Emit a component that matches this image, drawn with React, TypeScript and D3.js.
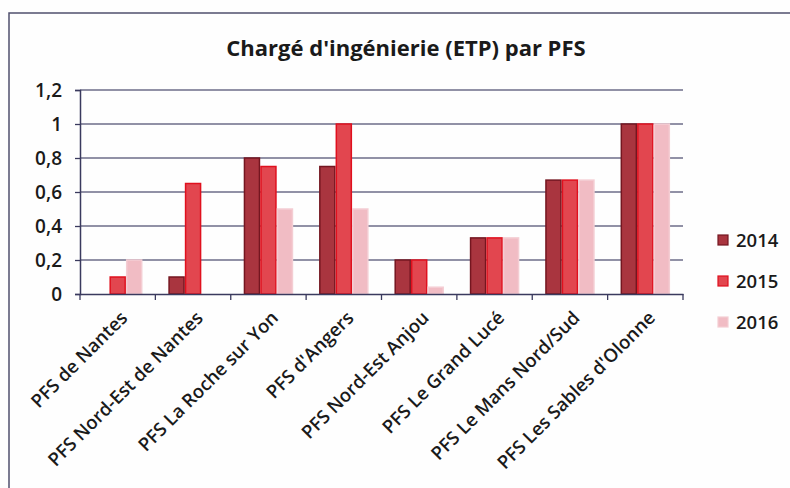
import React, { useEffect, useRef } from "react";
import * as d3 from "d3";

const categories = [
    "PFS de Nantes",
    "PFS Nord-Est de Nantes",
    "PFS La Roche sur Yon",
    "PFS d'Angers",
    "PFS Nord-Est Anjou",
    "PFS Le Grand Lucé",
    "PFS Le Mans Nord/Sud",
    "PFS Les Sables d'Olonne",
];
const years = ["2014", "2015", "2016"];
const values2014 = [0, 0.1, 0.8, 0.75, 0.2, 0.33, 0.67, 1];
const values2015 = [0.1, 0.65, 0.75, 1, 0.2, 0.33, 0.67, 1];
const values2016 = [0.2, 0, 0.5, 0.5, 0.04, 0.33, 0.67, 1];
const yTicks = [0, 0.2, 0.4, 0.6, 0.8, 1, 1.2];
const title = "Chargé d'ingénierie (ETP) par PFS";

const fills = ["#a9353f", "#e2464f", "#f1bcc4"];
const strokes = ["#741620", "#e0101e", "#f4cdd3"];

const App: React.FC = () => {
    const ref = useRef<SVGSVGElement>(null);

    useEffect(() => {
        if (!ref.current) return;
        const svg = d3.select(ref.current);
        svg.selectAll("*").remove();

        const font = "'Open Sans', Lato, sans-serif";
        const series = [values2014, values2015, values2016];

        // frame
        svg.append("rect").attr("width", 790).attr("height", 488).attr("fill", "#fefefe");
        svg.append("path")
            .attr("d", "M9,488 V13 H790")
            .attr("fill", "none")
            .attr("stroke", "#50506e")
            .attr("stroke-width", 1.5);

        svg.append("text")
            .attr("x", 406)
            .attr("y", 56)
            .attr("text-anchor", "middle")
            .attr("font-family", font)
            .attr("font-weight", 700)
            .attr("font-size", 22)
            .attr("fill", "#1a1a1a")
            .text(title);

        const x0 = d3.scaleBand<string>().domain(categories).range([80, 683]);
        const x1 = d3
            .scaleBand<string>()
            .domain(years)
            .range([13.7, 13.7 + 48])
            .paddingInner(0.09);
        const y = d3.scaleLinear().domain([0, 1.2]).range([294, 90]);

        // grid
        svg.append("g")
            .selectAll("line")
            .data(yTicks.filter((t) => t > 0))
            .join("line")
            .attr("x1", 80)
            .attr("x2", 683)
            .attr("y1", (d) => y(d))
            .attr("y2", (d) => y(d))
            .attr("stroke", "#6c6c88")
            .attr("stroke-width", 1.3);

        // bars
        const groups = svg
            .append("g")
            .selectAll("g")
            .data(categories)
            .join("g")
            .attr("transform", (d) => `translate(${x0(d)},0)`);

        groups
            .selectAll("rect")
            .data((_, i) => series.map((s, k) => ({ k, v: s[i] })))
            .join("rect")
            .filter((d) => d.v > 0)
            .attr("x", (d) => x1(years[d.k])!)
            .attr("width", x1.bandwidth())
            .attr("y", (d) => y(d.v))
            .attr("height", (d) => y(0) - y(d.v))
            .attr("fill", (d) => fills[d.k])
            .attr("stroke", (d) => strokes[d.k])
            .attr("stroke-width", 1.5);

        // y axis
        const yAxis = svg
            .append("g")
            .attr("transform", "translate(80,0)")
            .call(
                d3
                    .axisLeft(y)
                    .tickValues(yTicks)
                    .tickSize(5)
                    .tickPadding(13)
                    .tickFormat((d) => d3.format("~g")(d as number).replace(".", ","))
            );
        yAxis.select(".domain").attr("stroke", "#3a3a5e").attr("stroke-width", 1.5);
        yAxis.selectAll(".tick line").attr("stroke", "#3a3a5e").attr("stroke-width", 1.3);
        yAxis
            .selectAll(".tick text")
            .attr("font-family", font)
            .attr("font-weight", 600)
            .attr("font-size", 19)
            .attr("fill", "#1a1a1a");

        // x axis
        const xAxis = svg
            .append("g")
            .attr("transform", "translate(0,294)")
            .call(d3.axisBottom(x0).tickSize(0).tickFormat(() => ""));
        xAxis.select(".domain").attr("stroke", "#3a3a5e").attr("stroke-width", 1.5);
        xAxis
            .selectAll("line.sep")
            .data([...categories.map((c) => x0(c)!), 683])
            .join("line")
            .attr("class", "sep")
            .attr("x1", (d) => d)
            .attr("x2", (d) => d)
            .attr("y1", 0)
            .attr("y2", 6)
            .attr("stroke", "#3a3a5e")
            .attr("stroke-width", 1.3);

        svg.append("g")
            .selectAll("text")
            .data(categories)
            .join("text")
            .attr("transform", (d) => `translate(${x0(d)! + x0.bandwidth() / 2 + 11},319) rotate(-45)`)
            .attr("text-anchor", "end")
            .attr("font-family", font)
            .attr("font-weight", 600)
            .attr("font-size", 18.5)
            .attr("fill", "#1a1a1a")
            .text((d) => d);

        // legend
        const legend = svg
            .append("g")
            .selectAll("g")
            .data(years)
            .join("g")
            .attr("transform", (_, i) => `translate(718,${240 + i * 41})`);
        legend
            .append("rect")
            .attr("x", 0)
            .attr("y", -5)
            .attr("width", 10)
            .attr("height", 10)
            .attr("fill", (_, i) => fills[i])
            .attr("stroke", (_, i) => strokes[i])
            .attr("stroke-width", 1.2);
        legend
            .append("text")
            .attr("x", 18)
            .attr("y", 7)
            .attr("font-family", font)
            .attr("font-weight", 600)
            .attr("font-size", 18.5)
            .attr("fill", "#1a1a1a")
            .text((d) => d);
    }, []);

    return (
        <svg
            ref={ref}
            width={790}
            height={488}
            style={{ position: "absolute", left: 0, top: 0, display: "block" }}
        />
    );
};

export default App;
